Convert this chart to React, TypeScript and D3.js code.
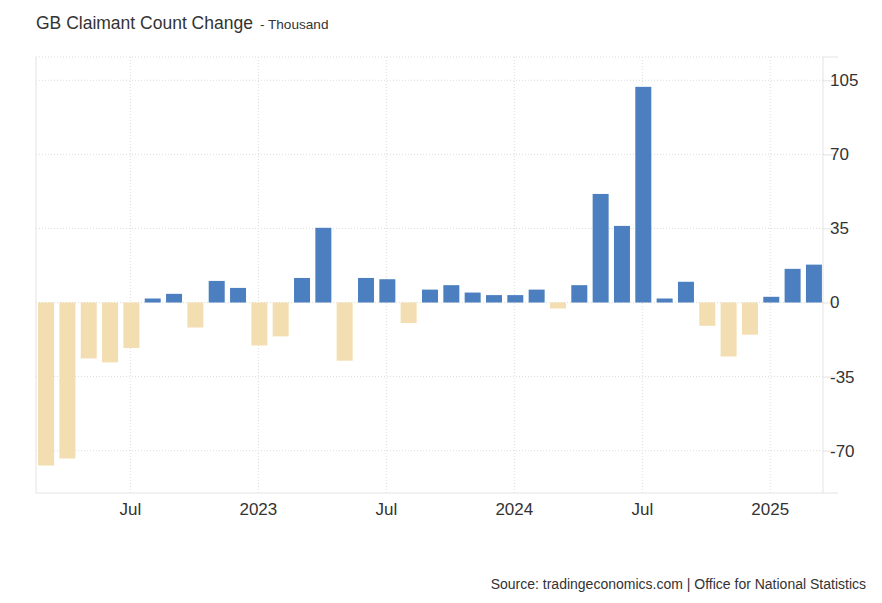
import React, { useEffect, useRef } from 'react';
import * as d3 from 'd3';

const months = [
  '2022-03', '2022-04', '2022-05', '2022-06', '2022-07', '2022-08', '2022-09', '2022-10', '2022-11', '2022-12',
  '2023-01', '2023-02', '2023-03', '2023-04', '2023-05', '2023-06', '2023-07', '2023-08', '2023-09', '2023-10', '2023-11', '2023-12',
  '2024-01', '2024-02', '2024-03', '2024-04', '2024-05', '2024-06', '2024-07', '2024-08', '2024-09', '2024-10', '2024-11', '2024-12',
  '2025-01', '2025-02', '2025-03',
];

const changes = [
  -77, -73.7, -26.4, -28.3, -21.5, 1.9, 4.1, -11.8, 10.2, 6.9,
  -20.3, -16, 11.6, 35.3, -27.5, 11.6, 11, -9.7, 6.1, 8.2, 4.7, 3.5,
  3.5, 6.1, -2.8, 8.2, 51.3, 36.2, 101.9, 1.9, 9.8, -11, -25.5, -15.2,
  2.7, 15.9, 17.9,
];

const xTickMonths = ['2022-07', '2023-01', '2023-07', '2024-01', '2024-07', '2025-01'];
const xTickLabels = ['Jul', '2023', 'Jul', '2024', 'Jul', '2025'];
const yTicks = [-70, -35, 0, 35, 70, 105];

const FONT = '"Liberation Sans", Arial, Helvetica, sans-serif';

const ClaimantChart: React.FC = () => {
  const svgRef = useRef<SVGSVGElement>(null);
  const width = 882;
  const height = 603;

  useEffect(() => {
    if (!svgRef.current) return;
    const svg = d3.select(svgRef.current);
    svg.selectAll('*').remove();

    const left = 36;
    const right = 823;
    const top = 57;
    const bottom = 493;

    const x = d3.scaleBand<string>()
      .domain(months)
      .range([left + 1, right])
      .paddingInner(0.25)
      .paddingOuter(0.05);

    const y = d3.scaleLinear().domain([-90, 116]).range([bottom, top]);

    // Title
    const title = svg.append('text')
      .attr('x', 36)
      .attr('y', 29)
      .attr('font-family', FONT)
      .attr('fill', '#333');
    title.append('tspan').attr('font-size', '17.5px').text('GB Claimant Count Change');
    title.append('tspan').attr('font-size', '13.6px').attr('dx', 7).text('- Thousand');

    // Horizontal grid (dotted)
    svg.append('g')
      .selectAll('line')
      .data(yTicks)
      .join('line')
      .attr('x1', left)
      .attr('x2', right)
      .attr('y1', d => y(d))
      .attr('y2', d => y(d))
      .attr('stroke', '#dcdcdc')
      .attr('stroke-width', 1)
      .attr('stroke-dasharray', '1,2');

    // Top border dotted
    svg.append('line')
      .attr('x1', left).attr('x2', right)
      .attr('y1', top).attr('y2', top)
      .attr('stroke', '#dcdcdc')
      .attr('stroke-dasharray', '1,2');

    // Vertical grid
    svg.append('g')
      .selectAll('line')
      .data(xTickMonths)
      .join('line')
      .attr('x1', d => (x(d) ?? 0) + x.bandwidth() / 2 - 1)
      .attr('x2', d => (x(d) ?? 0) + x.bandwidth() / 2 - 1)
      .attr('y1', top)
      .attr('y2', bottom)
      .attr('stroke', '#dcdcdc')
      .attr('stroke-dasharray', '1,2');

    // Bars
    svg.append('g')
      .selectAll('rect')
      .data(changes)
      .join('rect')
      .attr('x', (_, i) => x(months[i]) ?? 0)
      .attr('width', x.bandwidth())
      .attr('y', d => (d >= 0 ? y(d) : y(0)))
      .attr('height', d => Math.abs(y(d) - y(0)))
      .attr('fill', d => (d >= 0 ? '#4c7fc0' : '#f3deb1'));

    // Frame lines
    svg.append('line')
      .attr('x1', left).attr('x2', left)
      .attr('y1', top).attr('y2', bottom)
      .attr('stroke', '#e3e3e3');
    svg.append('line')
      .attr('x1', right).attr('x2', right)
      .attr('y1', top).attr('y2', bottom)
      .attr('stroke', '#e3e3e3');
    svg.append('line')
      .attr('x1', left).attr('x2', 838)
      .attr('y1', bottom).attr('y2', bottom)
      .attr('stroke', '#e3e3e3');
    svg.append('line')
      .attr('x1', right).attr('x2', 838)
      .attr('y1', top).attr('y2', top)
      .attr('stroke', '#e3e3e3');

    // Right axis
    const yAxis = svg.append('g')
      .attr('transform', `translate(${right},0)`)
      .call(d3.axisRight(y).tickValues(yTicks).tickSize(14).tickFormat(d => `${d}`));
    yAxis.select('.domain').remove();
    yAxis.selectAll('.tick line').attr('stroke', '#e3e3e3');
    yAxis.selectAll('.tick text')
      .attr('x', 7)
      .attr('fill', '#333')
      .attr('font-size', '17px')
      .attr('font-family', FONT);

    // Bottom axis labels
    svg.append('g')
      .selectAll('text')
      .data(xTickMonths)
      .join('text')
      .attr('x', d => (x(d) ?? 0) + x.bandwidth() / 2 - 1)
      .attr('y', 515)
      .attr('text-anchor', 'middle')
      .attr('fill', '#333')
      .attr('font-size', '17px')
      .attr('font-family', FONT)
      .text((_, i) => xTickLabels[i]);

    // Source
    svg.append('text')
      .attr('x', 866)
      .attr('y', 589)
      .attr('text-anchor', 'end')
      .attr('fill', '#333')
      .attr('font-size', '14px')
      .attr('font-family', FONT)
      .text('Source: tradingeconomics.com | Office for National Statistics');
  }, []);

  return (
    <svg
      ref={svgRef}
      width={width}
      height={height}
      style={{ position: 'absolute', left: 0, top: 0, background: '#fff' }}
    />
  );
};

export default function App() {
  return <ClaimantChart />;
}
